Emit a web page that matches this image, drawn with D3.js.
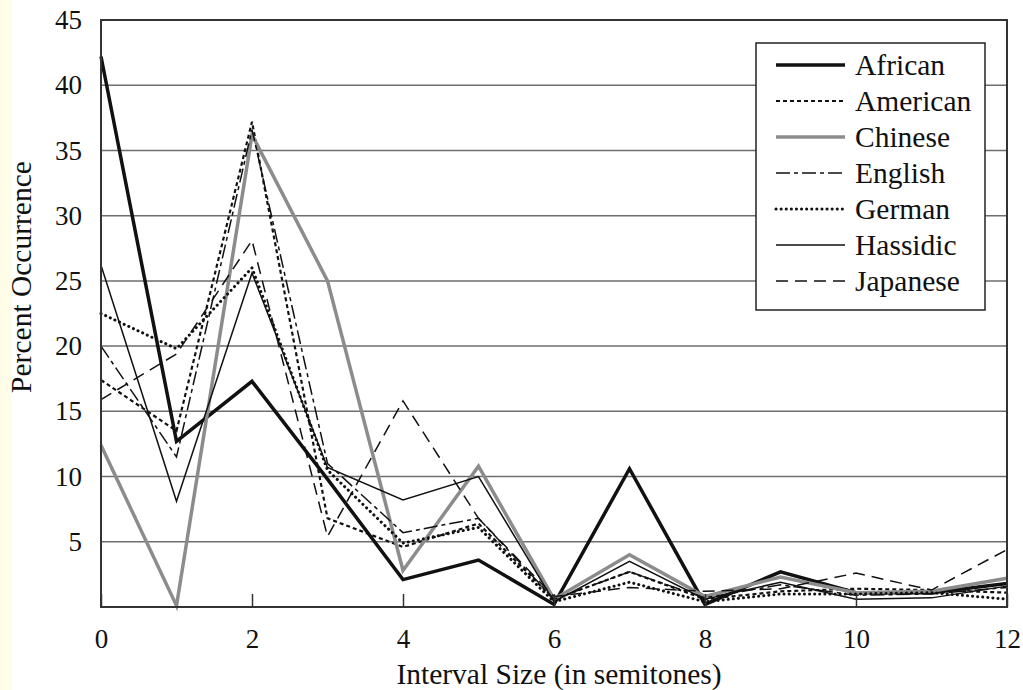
<!DOCTYPE html>
<html>
<head>
<meta charset="utf-8">
<script src="https://cdn.jsdelivr.net/npm/d3@7"></script>
<style>
  body { margin: 0; background: #fff; }
  svg { display: block; font-family: "Liberation Serif", "Times New Roman", serif; }
</style>
</head>
<body>
<div id="chart"></div>
<script>
// DATA (percent occurrence by interval size 0..12 semitones)
const intervals = [0, 1, 2, 3, 4, 5, 6, 7, 8, 9, 10, 11, 12];
const african  = [42.2, 12.7, 17.3, 9.8, 2.1, 3.6, 0.2, 10.6, 0.2, 2.7, 1.1, 1.1, 1.8];
const american = [17.4, 13.5, 37.2, 6.8, 4.6, 6.4, 0.6, 2.7, 0.6, 1.2, 1.4, 1.3, 1.1];
const chinese  = [12.4, 0.1, 36.2, 25.0, 2.8, 10.8, 0.6, 4.0, 0.8, 2.3, 1.1, 1.2, 2.2];
const english  = [20.0, 11.5, 36.6, 11.0, 5.7, 6.8, 0.6, 2.7, 0.7, 1.7, 0.9, 1.0, 1.5];
const german   = [22.5, 19.8, 26.0, 10.5, 4.9, 6.1, 0.4, 1.9, 0.4, 1.0, 1.0, 1.1, 0.6];
const hassidic = [26.2, 8.1, 25.6, 10.7, 8.2, 10.0, 0.4, 3.5, 0.6, 1.9, 0.6, 0.7, 1.6];
const japanese = [15.9, 19.4, 28.1, 5.4, 15.8, 6.8, 0.8, 1.5, 1.2, 1.4, 2.6, 1.3, 4.4];
const seriesNames = ["African", "American", "Chinese", "English", "German", "Hassidic", "Japanese"];
const xTicks = [0, 2, 4, 6, 8, 10, 12];
const yTicks = [5, 10, 15, 20, 25, 30, 35, 40, 45];

// LINE STYLES PER SERIES
const styles = {
  African:  { stroke: "#111", width: 3.5, dash: null, cap: "butt" },
  American: { stroke: "#111", width: 2.2, dash: "4,3", cap: "butt" },
  Chinese:  { stroke: "#8c8c8c", width: 3.5, dash: null, cap: "butt" },
  English:  { stroke: "#111", width: 1.5, dash: "14,4,4,4", cap: "butt" },
  German:   { stroke: "#111", width: 3, dash: "0.1,5", cap: "round" },
  Hassidic: { stroke: "#111", width: 1.5, dash: null, cap: "butt" },
  Japanese: { stroke: "#111", width: 1.5, dash: "12,7", cap: "butt" }
};

const values = [african, american, chinese, english, german, hassidic, japanese];
const series = seriesNames.map((name, i) => ({
  name: name,
  points: intervals.map((d, j) => ({ x: d, y: values[i][j] }))
}));

// DIMENSIONS
const W = 1023, H = 690;
const margin = { top: 20, right: 16, bottom: 83, left: 101 };
const width = W - margin.left - margin.right;
const height = H - margin.top - margin.bottom;

const svg = d3.select("#chart")
  .append("svg")
  .attr("width", W)
  .attr("height", H);

// pale page strip on the left
svg.append("rect")
  .attr("x", 0).attr("y", 0)
  .attr("width", 12).attr("height", H)
  .attr("fill", "#fffde8");

const g = svg.append("g")
  .attr("transform", `translate(${margin.left},${margin.top})`);

// SCALES
const x = d3.scaleLinear().domain([0, 12]).range([0, width]);
const y = d3.scaleLinear().domain([0, 45]).range([height, 0]);

// GRIDLINES
g.append("g")
  .selectAll("line")
  .data(yTicks.filter(d => d < 45))
  .join("line")
  .attr("x1", 0).attr("x2", width)
  .attr("y1", d => y(d)).attr("y2", d => y(d))
  .attr("stroke", "#6e6e6e")
  .attr("stroke-width", 1.5);

// LINES
const line = d3.line()
  .x(d => x(d.x))
  .y(d => y(d.y));

g.append("g")
  .selectAll("path")
  .data(series)
  .join("path")
  .attr("d", d => line(d.points))
  .attr("fill", "none")
  .attr("stroke", d => styles[d.name].stroke)
  .attr("stroke-width", d => styles[d.name].width)
  .attr("stroke-dasharray", d => styles[d.name].dash)
  .attr("stroke-linecap", d => styles[d.name].cap)
  .attr("stroke-linejoin", "miter");

// FRAME
g.append("rect")
  .attr("x", 0).attr("y", 0)
  .attr("width", width).attr("height", height)
  .attr("fill", "none")
  .attr("stroke", "#333")
  .attr("stroke-width", 2);

// X AXIS
const xAxis = g.append("g")
  .attr("transform", `translate(0,${height})`)
  .call(d3.axisBottom(x).tickValues(xTicks).tickSizeInner(-13).tickSizeOuter(0).tickPadding(22));
xAxis.select(".domain").remove();
xAxis.selectAll(".tick line").attr("stroke", "#333").attr("stroke-width", 1.5);
xAxis.selectAll("text")
  .attr("fill", "#111")
  .style("font-size", "27px")
  .style("font-family", "Liberation Serif, serif");

// Y AXIS
const yAxis = g.append("g")
  .call(d3.axisLeft(y).tickValues(yTicks).tickSize(0).tickPadding(19));
yAxis.select(".domain").remove();
yAxis.selectAll("text")
  .attr("fill", "#111")
  .style("font-size", "27px")
  .style("font-family", "Liberation Serif, serif");

// AXIS TITLES
svg.append("text")
  .attr("x", margin.left + width / 2 + 5)
  .attr("y", 684)
  .attr("text-anchor", "middle")
  .attr("fill", "#111")
  .style("font-size", "29.5px")
  .text("Interval Size (in semitones)");

svg.append("text")
  .attr("transform", "translate(31,277) rotate(-90)")
  .attr("text-anchor", "middle")
  .attr("fill", "#111")
  .style("font-size", "29.5px")
  .text("Percent Occurrence");

// LEGEND
const legend = svg.append("g");
legend.append("rect")
  .attr("x", 756).attr("y", 43)
  .attr("width", 229).attr("height", 267)
  .attr("fill", "#fff")
  .attr("stroke", "#222")
  .attr("stroke-width", 1.5);

const legendRow = d3.scaleLinear().domain([0, 6]).range([65, 281]);

const items = legend.selectAll(".item")
  .data(series)
  .join("g")
  .attr("class", "item")
  .attr("transform", (d, i) => `translate(0,${legendRow(i)})`);

items.append("line")
  .attr("x1", 776).attr("x2", 845)
  .attr("y1", 0).attr("y2", 0)
  .attr("stroke", d => styles[d.name].stroke)
  .attr("stroke-width", d => styles[d.name].width)
  .attr("stroke-dasharray", d => styles[d.name].dash)
  .attr("stroke-linecap", d => styles[d.name].cap);

items.append("text")
  .attr("x", 855)
  .attr("y", 10)
  .attr("fill", "#111")
  .style("font-size", "29.5px")
  .text(d => d.name);
</script>
</body>
</html>
